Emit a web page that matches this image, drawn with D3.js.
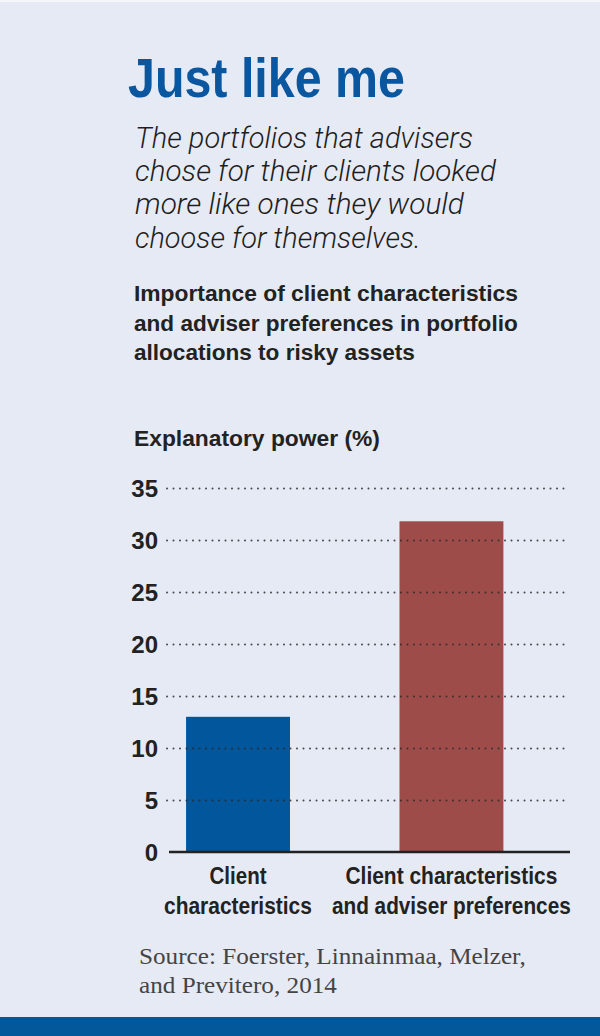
<!DOCTYPE html>
<html><head><meta charset="utf-8">
<script src="https://cdn.jsdelivr.net/npm/d3@7"></script>
<style>
html,body{margin:0;padding:0;background:#e6eaf4;}
svg{display:block;}
</style></head>
<body>
<svg id="c" width="600" height="1036"></svg>
<script>
const categories = [["Client","characteristics"],["Client characteristics","and adviser preferences"]];
const categoryKeys = ["client","clientAdviser"];
const values = [13.0, 31.8];
const barColors = ["#02569b","#9e4c49"];
const yTicks = [0,5,10,15,20,25,30,35];
const titleText = "Just like me";
const subtitleLines = ["The portfolios that advisers","chose for their clients looked","more like ones they would","choose for themselves."];
const headerLines = ["Importance of client characteristics","and adviser preferences in portfolio","allocations to risky assets"];
const axisTitle = "Explanatory power (%)";
const sourceLines = ["Source: Foerster, Linnainmaa, Melzer,","and Previtero, 2014"];

// measured text widths (for condensed appearance)
const subtitleW = [338, 361, 329, 286];
const headerW = [384, 384, 281];
const catW = [[57,148],[212,239]];
const sourceW = [387, 198];

const svg = d3.select("#c");
const W = 600, H = 1036;
const sans = "'Liberation Sans',Arial,Helvetica,sans-serif";
const serif = "'Liberation Serif','DejaVu Serif',serif";

svg.append("rect").attr("width",W).attr("height",H).attr("fill","#e6eaf4");
svg.append("rect").attr("width",W).attr("height",2).attr("fill","#f4f6fa");
svg.append("rect").attr("x",0).attr("y",1017).attr("width",W).attr("height",19).attr("fill","#03589c");

// place a text starting at (x0,y0) and scale it horizontally to width w
function placeText(g, str, x0, y0, w, style){
  const t = g.append("text").attr("x",0).attr("y",0).text(str);
  Object.entries(style).forEach(([k,v])=>t.attr(k,v));
  const nat = t.node().getComputedTextLength();
  const sx = w / nat;
  t.attr("transform",`translate(${x0},${y0}) scale(${sx},1)`);
  return t;
}

const titleStyle = {"font-family":sans,"font-weight":"bold","font-size":56,"fill":"#0a57a0"};
placeText(svg, titleText, 128, 97, 277, titleStyle);

const subG = svg.append("g");
const subStyle = {"font-family":"Roboto,'Liberation Sans',sans-serif","font-weight":300,
  "font-style":"italic","font-size":29,"fill":"#1e1e1e"};
subtitleLines.forEach((s,i)=>placeText(subG, s, 135, 148+i*33.2, subtitleW[i], subStyle));

const boldStyle = {"font-family":sans,"font-weight":"bold","font-size":21.5,"fill":"#222"};
const hG = svg.append("g");
headerLines.forEach((s,i)=>placeText(hG, s, 134, 301+i*29.5, headerW[i], boldStyle));
placeText(svg, axisTitle, 134, 446, 246, boldStyle);

const y = d3.scaleLinear().domain([0,35]).range([852,488]);
const x = d3.scaleBand().domain(categoryKeys).range([169,570])
  .paddingInner(0.513).paddingOuter(0.196).align(0.204);

// bars
svg.append("g").selectAll("rect").data(values).join("rect")
  .attr("x",(d,i)=>x(categoryKeys[i])).attr("width",x.bandwidth())
  .attr("y",d=>y(d)).attr("height",d=>y(0)-y(d))
  .attr("fill",(d,i)=>barColors[i]);

// gridlines (drawn over the bars, as in the reference)
const grid = svg.append("g").attr("transform","translate(167,0)")
  .call(d3.axisRight(y).tickValues(yTicks.filter(t=>t>0)).tickSize(400).tickFormat(""));
grid.select(".domain").remove();
grid.selectAll(".tick line").attr("stroke","#2a2a2a").attr("stroke-width",2)
  .attr("stroke-dasharray","0,6.5").attr("stroke-linecap","round").attr("stroke-opacity",0.85);

// y tick labels
const yAxis = svg.append("g").attr("transform","translate(158,0)")
  .call(d3.axisLeft(y).tickValues(yTicks).tickSize(0).tickPadding(0));
yAxis.select(".domain").remove();
yAxis.selectAll("text").attr("font-family",sans).attr("font-weight","bold")
  .attr("font-size",24).attr("fill","#222").attr("dy","0.36em");

// baseline
svg.append("line").attr("x1",169).attr("x2",570).attr("y1",y(0)).attr("y2",y(0))
  .attr("stroke","#222").attr("stroke-width",2.4);

// category labels (one text element per line)
const catG = svg.append("g");
const catStyle = {"font-family":sans,"font-weight":"bold","font-size":23.5,"fill":"#222"};
categories.forEach((c,i)=>c.forEach((t,j)=>{
  const cx = x(categoryKeys[i]) + x.bandwidth()/2;
  placeText(catG, t, cx - catW[i][j]/2, 884 + j*29.5, catW[i][j], catStyle);
}));

const srcG = svg.append("g");
const srcStyle = {"font-family":serif,"font-size":23,"fill":"#444"};
sourceLines.forEach((s,i)=>placeText(srcG, s, 139, 964+i*28.5, sourceW[i], srcStyle));
</script>
</body></html>
